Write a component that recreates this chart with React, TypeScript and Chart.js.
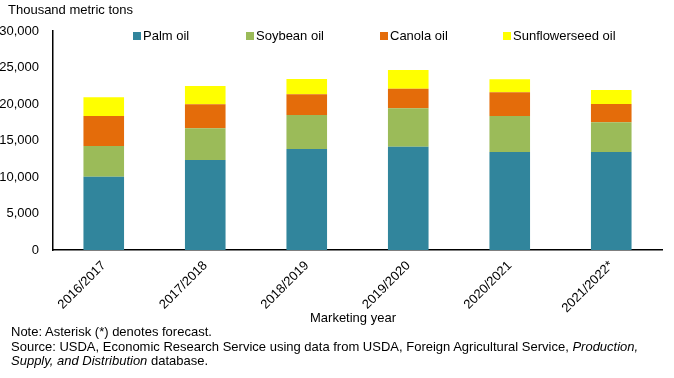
import React, { useEffect, useRef } from "react";
import { Chart, registerables } from "chart.js";

Chart.register(...registerables);

const categories = ["2016/2017", "2017/2018", "2018/2019", "2019/2020", "2020/2021", "2021/2022*"];
const palmOil = [10040, 12330, 13840, 14150, 13420, 13420];
const soybeanOil = [4210, 4340, 4650, 5260, 4940, 4070];
const canolaOil = [4110, 3290, 2840, 2690, 3240, 2510];
const sunflowerseedOil = [2560, 2510, 2090, 2560, 1780, 1920];
const yTicks = [0, 5000, 10000, 15000, 20000, 25000, 30000];

const seriesNames = ["Palm oil", "Soybean oil", "Canola oil", "Sunflowerseed oil"];
const seriesColors = ["#31859C", "#9BBB59", "#E46C0A", "#FFFF00"];

const FONT = "'Liberation Sans', Arial, sans-serif";

export default function App() {
  const ref = useRef<HTMLCanvasElement | null>(null);

  useEffect(() => {
    document.body.style.margin = "0";
    const ctx = ref.current!;
    const values = [palmOil, soybeanOil, canolaOil, sunflowerseedOil];
    const chart = new Chart(ctx, {
      type: "bar",
      data: {
        labels: categories,
        datasets: values.map((v, i) => ({
          label: seriesNames[i],
          data: v,
          backgroundColor: seriesColors[i],
          borderWidth: 0,
          barPercentage: 0.4,
          categoryPercentage: 1,
        })),
      },
      options: {
        animation: false,
        responsive: false,
        devicePixelRatio: 1,
        layout: { padding: { top: 31, right: 12, left: 0, bottom: 0 } },
        plugins: {
          legend: { display: false },
          tooltip: { enabled: false },
        },
        scales: {
          x: {
            stacked: true,
            grid: { display: false, drawTicks: false },
            border: { display: true, color: "#000", width: 1.5 },
            ticks: {
              color: "#000",
              font: { family: FONT, size: 13 },
              maxRotation: 45,
              minRotation: 45,
              padding: 8,
            },
            afterFit: (s: any) => {
              s.height = 80;
            },
          },
          y: {
            stacked: true,
            min: 0,
            max: 30000,
            grid: { display: false, drawTicks: false },
            border: { display: true, color: "#000", width: 1.5 },
            afterBuildTicks: (s: any) => {
              s.ticks = yTicks.map((v) => ({ value: v }));
            },
            ticks: {
              color: "#000",
              font: { family: FONT, size: 13 },
              padding: 14,
              callback: (v: any) => Number(v).toLocaleString("en-US"),
            },
            afterFit: (s: any) => {
              s.width = 53;
            },
          },
        },
      },
    });
    return () => chart.destroy();
  }, []);

  const legendPos = [133, 246, 380, 503];

  return (
    <div style={{ position: "relative", width: 674, height: 378, fontFamily: FONT, color: "#000", background: "#fff" }}>
      <canvas ref={ref} width={674} height={330} style={{ position: "absolute", left: 0, top: 0 }} />
      <div style={{ position: "absolute", left: 8, top: 2, fontSize: 13 }}>Thousand metric tons</div>
      {seriesNames.map((n, i) => (
        <div key={n} style={{ position: "absolute", left: legendPos[i], top: 28, fontSize: 13, display: "flex", alignItems: "center", whiteSpace: "nowrap" }}>
          <span style={{ display: "inline-block", width: 8, height: 8, background: seriesColors[i], marginRight: 2 }} />
          {n}
        </div>
      ))}
      <div style={{ position: "absolute", left: 0, width: 706, top: 310, fontSize: 13, textAlign: "center" }}>Marketing year</div>
      <div style={{ position: "absolute", left: 11, top: 325, fontSize: 13, lineHeight: "14.6px" }}>
        <div>Note: Asterisk (*) denotes forecast.</div>
        <div>
          Source: USDA, Economic Research Service using data from USDA, Foreign Agricultural Service, <i>Production,</i>
        </div>
        <div>
          <i>Supply, and Distribution</i> database.
        </div>
      </div>
    </div>
  );
}
